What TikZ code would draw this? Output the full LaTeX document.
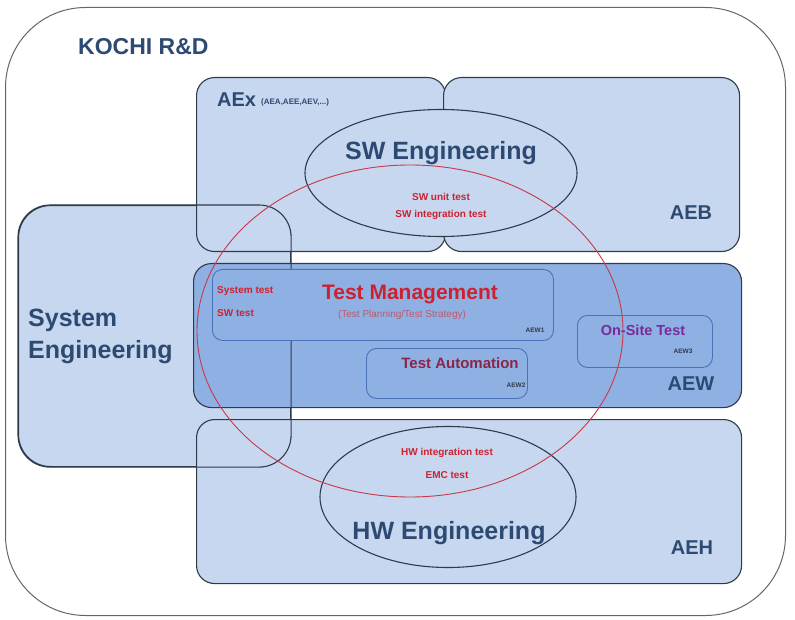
\documentclass[tikz,border=0pt]{standalone}
\usepackage{fontspec}
\setmainfont{Liberation Sans}
\usetikzlibrary{shapes.geometric}
\definecolor{edge}{HTML}{2E3B4A}
\definecolor{lightb}{HTML}{C6D7EF}
\definecolor{midb}{HTML}{8FB0E3}
\definecolor{innerb}{HTML}{4A72B8}
\definecolor{navy}{HTML}{2D4A72}
\definecolor{tred}{HTML}{CC2230}
\definecolor{pinkred}{HTML}{C05868}
\definecolor{maroon}{HTML}{8A2548}
\definecolor{purp}{HTML}{7A2A9A}
\definecolor{ringred}{HTML}{C83848}
\newcommand{\fs}[1]{\fontsize{#1}{#1}\selectfont}
\tikzset{
  unitbox/.style={draw=edge, line width=1.1pt, fill=lightb, rounded corners=18pt, anchor=north west, inner sep=0pt},
  subbox/.style={draw=innerb, line width=0.9pt, fill=midb, rounded corners=10pt, anchor=north west, inner sep=0pt},
  ell/.style={ellipse, draw=edge, line width=1.1pt, fill=lightb, inner sep=0pt},
  biglbl/.style={font=\bfseries\fs{20}, text=navy, inner sep=0pt},
  englbl/.style={font=\bfseries\fs{25}, text=navy, inner sep=0pt},
  redsmall/.style={font=\bfseries\fs{10}, text=tred, inner sep=0pt},
  tiny/.style={font=\bfseries\fs{6.5}, text=edge, inner sep=0pt},
}
\begin{document}
\begin{tikzpicture}[x=1pt,y=-1pt]
\useasboundingbox (0,0) rectangle (795,620);
% outer frame
\node[draw=gray!80!black, line width=1pt, fill=white, rounded corners=80pt, anchor=north west, minimum width=780pt, minimum height=608pt, inner sep=0pt] (outer) at (5,7) {};
\node[font=\bfseries\fs{23}, text=navy, anchor=west, inner sep=0pt] (kochi) at (78,47) {KOCHI R\&D};
% boxes
\node[unitbox, minimum width=272pt, minimum height=261pt, rounded corners=32pt] (sys) at (18,205) {};
\node[unitbox, minimum width=249pt, minimum height=174pt] (aex) at (196,77) {};
\node[unitbox, minimum width=296pt, minimum height=174pt] (aeb) at (443,77) {};
\node[unitbox, fill=midb, minimum width=548pt, minimum height=144pt] (aew) at (193,263) {};
\node[unitbox, minimum width=545pt, minimum height=164pt] (aeh) at (196,419) {};
\draw[edge, line width=1.1pt, rounded corners=32pt] (sys.north west) rectangle (sys.south east);
% sub boxes
\node[subbox, minimum width=341pt, minimum height=71pt] (tm) at (212,269) {};
\node[subbox, minimum width=161pt, minimum height=50pt] (ta) at (366,348) {};
\node[subbox, minimum width=135pt, minimum height=52pt] (ost) at (577,315) {};
% ellipses
\node[ell, minimum width=272pt, minimum height=127pt] (swe) at (441,173) {};
\node[ell, minimum width=256pt, minimum height=141pt] (hwe) at (448,497) {};
\node[ellipse, draw=ringred, line width=0.9pt, inner sep=0pt, minimum width=426pt, minimum height=332pt] (ring) at (410,331) {};
% labels
\node[biglbl, anchor=west] (aexl) at (217,100) {AEx};
\node[font=\bfseries\fs{8}, text=navy, anchor=west, inner sep=0pt] (aexs) at (261,102) {(AEA,AEE,AEV,...)};
\node[biglbl] (aebl) at (691,213) {AEB};
\node[biglbl] (aewl) at (691,384) {AEW};
\node[biglbl] (aehl) at (692,548) {AEH};
\node[englbl] (swl) at (441,153) {SW Engineering};
\node[redsmall] (swt1) at (441,197) {SW unit test};
\node[redsmall] (swt2) at (441,215) {SW integration test};
\node[englbl] (hwl) at (449,533) {HW Engineering};
\node[redsmall] (hwt1) at (447,453) {HW integration test};
\node[redsmall] (hwt2) at (447,475) {EMC test};
\node[font=\bfseries\fs{25}, text=navy, align=left, anchor=west, inner sep=0pt] (sysl) at (28,336) {System\\[7pt]Engineering};
\node[redsmall, anchor=west] (st1) at (217,291) {System test};
\node[redsmall, anchor=west] (st2) at (217,313) {SW test};
\node[font=\bfseries\fs{21}, text=tred, inner sep=0pt] (tml) at (410,295) {Test Management};
\node[font=\fs{10}, text=pinkred, inner sep=0pt] (tms) at (402,315) {(Test Planning/Test Strategy)};
\node[tiny] (aew1) at (535,330) {AEW1};
\node[font=\bfseries\fs{15}, text=maroon, inner sep=0pt] (tal) at (460,363) {Test Automation};
\node[tiny] (aew2) at (516,385) {AEW2};
\node[font=\bfseries\fs{14.5}, text=purp, inner sep=0pt] (ostl) at (643,330) {On-Site Test};
\node[tiny] (aew3) at (683,351) {AEW3};
\end{tikzpicture}
\end{document}
